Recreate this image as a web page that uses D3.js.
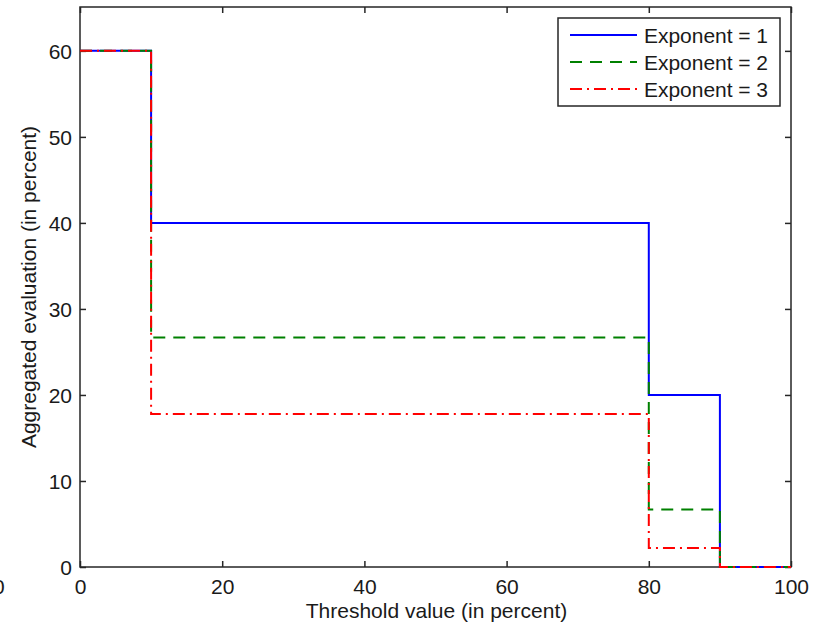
<!DOCTYPE html>
<html>
<head>
<meta charset="utf-8">
<script src="https://cdn.jsdelivr.net/npm/d3@7"></script>
<style>
  body { margin: 0; background: #fff; }
  svg text { font-family: "Liberation Sans", Arial, sans-serif; fill: #1a1a1a; }
</style>
</head>
<body>
<div id="chart"></div>
<script>
// step breakpoints (threshold, in percent)
const thresholds = [0, 10, 80, 90, 100];
// level held on each interval [thresholds[i], thresholds[i+1]]
const exp1 = [60, 40, 20, 0];
const exp2 = [60, 26.67, 6.67, 0];
const exp3 = [60, 17.78, 2.22, 0];
const seriesNames = ["Exponent = 1", "Exponent = 2", "Exponent = 3"];
const xTicks = [0, 20, 40, 60, 80, 100];
const yTicks = [0, 10, 20, 30, 40, 50, 60];

const W = 817, H = 624;
const margin = { top: 7, right: 26, bottom: 57, left: 80 };
const width = W - margin.left - margin.right;
const height = H - margin.top - margin.bottom;
const fs = 21;

const svg = d3.select("#chart").append("svg")
    .attr("width", W)
    .attr("height", H);

const g = svg.append("g")
    .attr("transform", `translate(${margin.left},${margin.top})`);

const x = d3.scaleLinear().domain([0, 100]).range([0, width]);
const y = d3.scaleLinear().domain([0, 65.1]).range([height, 0]);

const axisColor = "#262626";

// frame
g.append("rect")
    .attr("width", width).attr("height", height)
    .attr("fill", "none").attr("stroke", axisColor).attr("stroke-width", 1.5);

// bottom axis
const xa = g.append("g")
    .attr("transform", `translate(0,${height})`)
    .call(d3.axisBottom(x).tickValues(xTicks).tickSizeInner(-6).tickSizeOuter(0).tickPadding(12));
// top mirror ticks
const xt = g.append("g")
    .call(d3.axisTop(x).tickValues(xTicks).tickSizeInner(-6).tickSizeOuter(0).tickFormat(""));
// left axis
const ya = g.append("g")
    .call(d3.axisLeft(y).tickValues(yTicks).tickSizeInner(-6).tickSizeOuter(0).tickPadding(8));
// right mirror ticks
const yr = g.append("g")
    .attr("transform", `translate(${width},0)`)
    .call(d3.axisRight(y).tickValues(yTicks).tickSizeInner(-6).tickSizeOuter(0).tickFormat(""));

[xa, xt, ya, yr].forEach(a => {
    a.select(".domain").remove();
    a.selectAll("line").attr("stroke", axisColor).attr("stroke-width", 1.5);
    a.selectAll("text").attr("font-size", fs).attr("fill", "#1a1a1a")
        .attr("font-family", "Liberation Sans, Arial, sans-serif");
});
ya.selectAll("text").attr("dy", "0.36em");

// stray clipped label at the far left (from neighbouring panel)
svg.append("text")
    .attr("x", -7).attr("y", 594)
    .attr("font-size", fs)
    .text("0");

// step lines
function steps(levels) {
    const pts = [];
    levels.forEach((v, i) => {
        pts.push({ x: thresholds[i], y: v });
        pts.push({ x: thresholds[i + 1], y: v });
    });
    return pts;
}

const line = d3.line().x(d => x(d.x)).y(d => y(d.y));

const styles = [
    { color: "#0000ff", dash: null },
    { color: "#008000", dash: "12,8" },
    { color: "#ff0000", dash: "12,5,2,5" }
];
const allSeries = [exp1, exp2, exp3];

allSeries.forEach((s, i) => {
    g.append("path")
        .datum(steps(s))
        .attr("fill", "none")
        .attr("stroke", styles[i].color)
        .attr("stroke-width", 2)
        .attr("stroke-dasharray", styles[i].dash)
        .attr("d", line);
});

// legend
const lg = svg.append("g").attr("transform", "translate(558,18)");
lg.append("rect")
    .attr("width", 222).attr("height", 88)
    .attr("fill", "#fff").attr("stroke", axisColor).attr("stroke-width", 1.5);
seriesNames.forEach((name, i) => {
    const yy = 17 + i * 27;
    lg.append("line")
        .attr("x1", 12).attr("x2", 79)
        .attr("y1", yy).attr("y2", yy)
        .attr("stroke", styles[i].color)
        .attr("stroke-width", 2)
        .attr("stroke-dasharray", styles[i].dash);
    lg.append("text")
        .attr("x", 86).attr("y", yy)
        .attr("dy", "0.36em")
        .attr("font-size", fs)
        .attr("textLength", 124)
        .text(name);
});

// axis labels
svg.append("text")
    .attr("x", margin.left + width / 2 + 1).attr("y", 618)
    .attr("text-anchor", "middle")
    .attr("font-size", fs)
    .text("Threshold value (in percent)");

svg.append("text")
    .attr("transform", `translate(36,${margin.top + height / 2}) rotate(-90)`)
    .attr("text-anchor", "middle")
    .attr("font-size", fs)
    .text("Aggregated evaluation (in percent)");
</script>
</body>
</html>
